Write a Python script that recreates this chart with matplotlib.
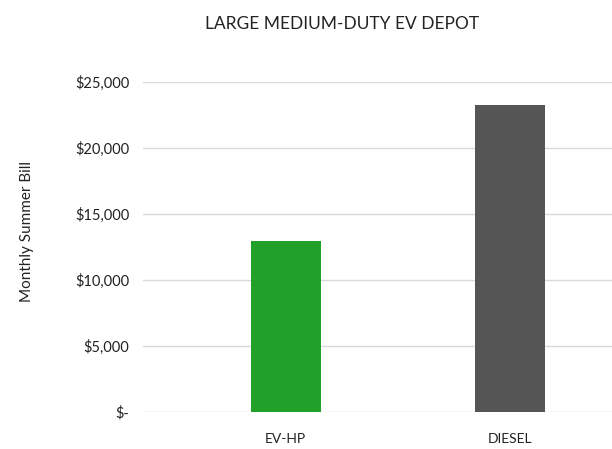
import numpy as np
import matplotlib
matplotlib.use("Agg")
from matplotlib import pyplot as plt

categories = ["EV-HP", "DIESEL"]
bill = [12900, 23200]
colors = ["#21a02a", "#555555"]
yticks = [0, 5000, 10000, 15000, 20000, 25000]
ytick_labels = ["$-", "$5,000", "$10,000", "$15,000", "$20,000", "$25,000"]

plt.rcParams['font.family'] = ['Lato', 'DejaVu Sans']

fig = plt.figure(figsize=(6.12, 4.49), dpi=100)
ax = fig.add_axes([143/612, 1 - 411.7/449, 1 - 143/612, (411.7 - 81.7)/449])

x = np.arange(len(categories))
ax.bar(x, bill, width=0.312, color=colors, zorder=3)

ax.set_xlim(-0.636, 1.455)
ax.set_ylim(0, 25000)
ax.set_yticks(yticks)
ax.set_yticklabels(ytick_labels, fontsize=10.5, color="#222222")
ax.set_xticks(x)
ax.set_xticklabels(categories, fontsize=10, color="#222222")
ax.tick_params(axis='y', length=0, pad=10)
ax.tick_params(axis='x', length=0, pad=15)

ax.grid(axis='y', color="#d9d9d9", linewidth=1, zorder=0)
for s in ax.spines.values():
    s.set_visible(False)

fig.text(27/612, 1 - 232/449, "Monthly Summer Bill", rotation=90,
         ha='center', va='center', fontsize=11, color="#222222")
fig.text(342/612, 1 - 24/449, "LARGE MEDIUM-DUTY EV DEPOT",
         ha='center', va='center', fontsize=12.5, color="#222222")

fig.savefig("out.png", dpi=100)
